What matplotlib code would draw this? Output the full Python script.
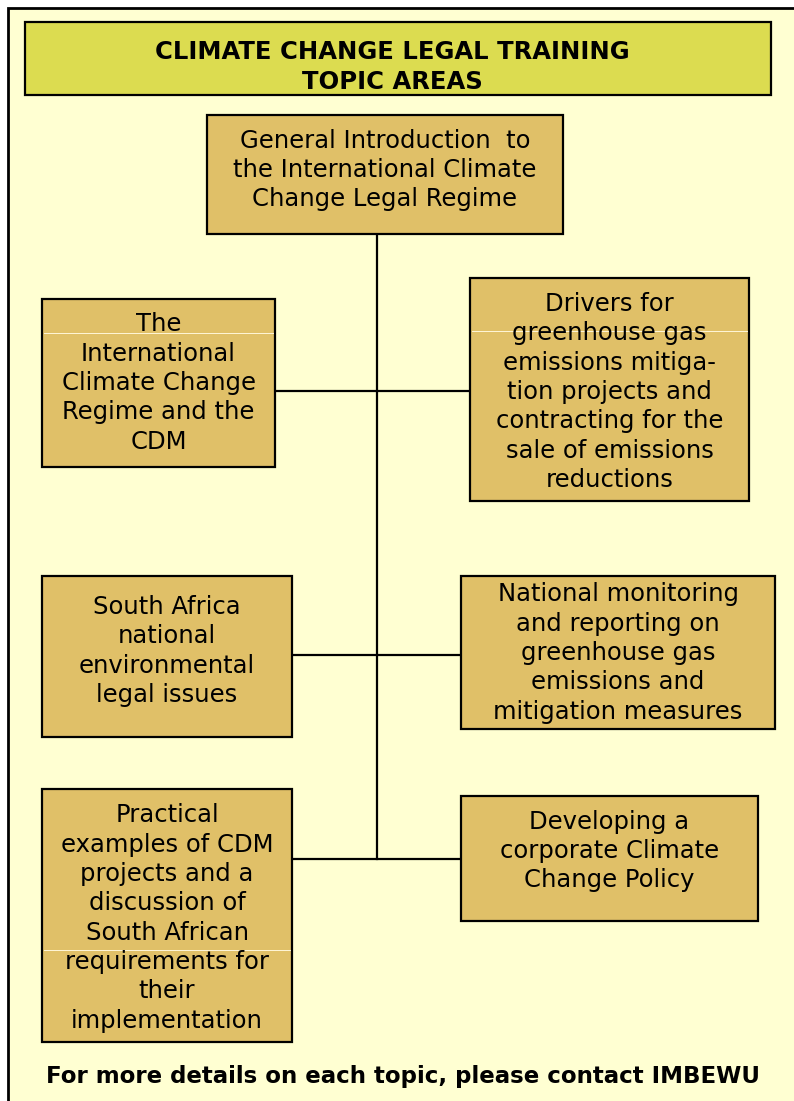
import matplotlib.pyplot as plt
from matplotlib.patches import Rectangle

# texte des cases
title_lines = ["CLIMATE CHANGE LEGAL TRAINING", "TOPIC AREAS"]
top_label = "General Introduction  to\nthe International Climate\nChange Legal Regime"
left_labels = [
    "The\nInternational\nClimate Change\nRegime and the\nCDM",
    "South Africa\nnational\nenvironmental\nlegal issues",
    "Practical\nexamples of CDM\nprojects and a\ndiscussion of\nSouth African\nrequirements for\ntheir\nimplementation",
]
right_labels = [
    "Drivers for\ngreenhouse gas\nemissions mitiga-\ntion projects and\ncontracting for the\nsale of emissions\nreductions",
    "National monitoring\nand reporting on\ngreenhouse gas\nemissions and\nmitigation measures",
    "Developing a\ncorporate Climate\nChange Policy",
]
footer = "For more details on each topic, please contact IMBEWU"

# mise en page (pixels, origine en haut a gauche)
top_box = (207, 115, 356, 119)
top_text_y = 170
left_boxes = [(42, 299, 233, 168), (42, 576, 250, 161), (42, 789, 250, 253)]
left_text_y = [383, 651, 918]
right_boxes = [(470, 278, 279, 223), (461, 576, 314, 153), (461, 796, 297, 125)]
right_text_y = [392, 653, 851]
branch_y = [391, 655, 859]
spine_x = 377
# petites lignes claires (artefacts de rendu dans l'original)
glitch_lines = [(42, 275, 333), (470, 749, 331), (42, 292, 950)]

bg = "#FFFFD2"
box_fill = "#E0C068"
title_fill = "#DCDC50"

fig = plt.figure(figsize=(7.94, 11.01), dpi=100)
ax = fig.add_axes([0, 0, 1, 1])
ax.set_xlim(0, 794)
ax.set_ylim(1101, 0)
ax.axis("off")

# cadre exterieur
ax.add_patch(Rectangle((8, 8), 900, 1200, facecolor=bg, edgecolor="black", lw=2, zorder=0))

# titre
ax.add_patch(Rectangle((25, 22), 746, 73, facecolor=title_fill, edgecolor="black", lw=1.6, zorder=2))
ax.text(392, 52, title_lines[0], ha="center", va="center", fontsize=17.5, fontweight="bold")
ax.text(392, 82, title_lines[1], ha="center", va="center", fontsize=17.5, fontweight="bold")

# connecteurs
ax.plot([spine_x, spine_x], [234, branch_y[-1]], color="black", lw=1.6, zorder=1)
for (lx, ly, lw_, lh), (rx, ry, rw, rh), y in zip(left_boxes, right_boxes, branch_y):
    ax.plot([lx + lw_, rx], [y, y], color="black", lw=1.6, zorder=1)


def draw_box(box, label, ty):
    x, y, w, h = box
    ax.add_patch(Rectangle((x, y), w, h, facecolor=box_fill, edgecolor="black", lw=1.6, zorder=2))
    ax.text(x + w / 2, ty, label, ha="center", va="center", fontsize=17.5,
            linespacing=1.28, zorder=4)


draw_box(top_box, top_label, top_text_y)
for b, lab, ty in zip(left_boxes, left_labels, left_text_y):
    draw_box(b, lab, ty)
for b, lab, ty in zip(right_boxes, right_labels, right_text_y):
    draw_box(b, lab, ty)

for x0, x1, y in glitch_lines:
    ax.plot([x0 + 2, x1 - 2], [y, y], color="#FFF6D8", lw=0.7, zorder=3)

ax.text(403, 1077, footer, ha="center", va="center", fontsize=16.5, fontweight="bold")

fig.savefig("out.png", dpi=100, facecolor="white")
